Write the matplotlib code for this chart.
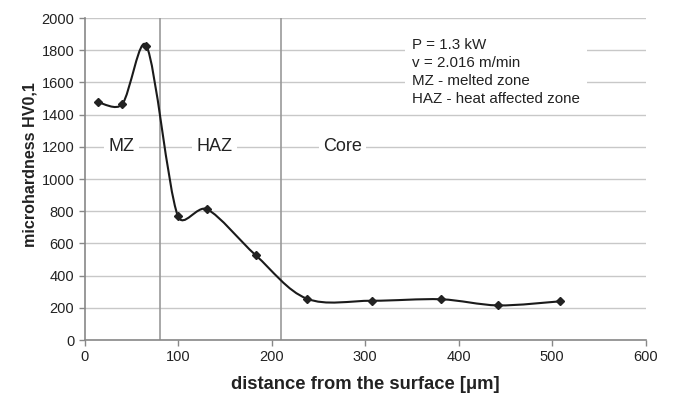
import numpy as np
import matplotlib
matplotlib.use("Agg")
import matplotlib.pyplot as plt
from matplotlib.path import Path
from matplotlib.patches import PathPatch

plt.rcParams['font.family'] = ['Liberation Sans', 'DejaVu Sans']

# measured hardness profile
distance = [14.5, 40, 66, 99.5, 131, 183, 237.5, 307.5, 381, 442, 508]
hardness = [1476, 1464, 1828, 772, 812, 526, 257, 244, 253, 215, 240]
zone_bounds = [80, 210]
zone_labels = ['MZ', 'HAZ', 'Core']
zone_label_x = [39.5, 139, 276]
notes = ['P = 1.3 kW', 'v = 2.016 m/min', 'MZ - melted zone', 'HAZ - heat affected zone']

fig = plt.figure(figsize=(6.74, 4.03), dpi=100)
ax = fig.add_axes([0.1257, 0.1563, 0.8323, 0.799])
ax.set_xlim(0, 600)
ax.set_ylim(0, 2000)

# smoothed line like a spreadsheet chart: cubic beziers, handles computed in
# screen space and shortened a bit next to short segments
pts = ax.transData.transform(np.column_stack([distance, hardness]))
n = len(pts)
verts = [pts[0]]
codes = [Path.MOVETO]
for i in range(n - 1):
    p0 = pts[i - 1] if i > 0 else pts[i]
    p1 = pts[i]
    p2 = pts[i + 1]
    p3 = pts[i + 2] if i + 2 < n else pts[i + 1]
    d01 = np.hypot(*(p1 - p0))
    d12 = np.hypot(*(p2 - p1))
    d23 = np.hypot(*(p3 - p2))
    f1 = min(1.0, np.sqrt(2 * d12 / (d01 + d12))) if d01 > 0 else 1.0
    f2 = min(1.0, np.sqrt(2 * d12 / (d12 + d23))) if d23 > 0 else 1.0
    c1 = p1 + (p2 - p0) / 6 * f1
    c2 = p2 - (p3 - p1) / 6 * f2
    verts += [c1, c2, p2]
    codes += [Path.CURVE4] * 3
curve = PathPatch(Path(np.array(verts), codes), facecolor='none', edgecolor='#1a1a1a',
                  lw=1.5, zorder=4, transform=None)
ax.add_artist(curve)
ax.plot(distance, hardness, ls='none', marker='D', ms=4, color='#222222', zorder=5)

for xb in zone_bounds:
    ax.axvline(xb, color='#999999', lw=1.2, zorder=2)

for lab, xl in zip(zone_labels, zone_label_x):
    ax.text(xl, 1200, lab, ha='center', va='center', fontsize=13, color='#222222',
            bbox=dict(facecolor='white', edgecolor='none', pad=3), zorder=3)

ax.text(350, 1665, '\n'.join(notes), ha='left', va='center', fontsize=10.9, color='#222222',
        linespacing=1.36, bbox=dict(facecolor='white', edgecolor='none', pad=5), zorder=3)

ax.set_xticks(range(0, 601, 100))
ax.set_yticks(range(0, 2001, 200))
ax.grid(axis='y', color='#c8c8c8', lw=1)
ax.set_axisbelow(True)
for s in ['top', 'right']:
    ax.spines[s].set_visible(False)
for s in ['left', 'bottom']:
    ax.spines[s].set_color('#888888')
    ax.spines[s].set_linewidth(1.2)
ax.tick_params(axis='both', labelsize=10.5, colors='#888888', labelcolor='#222222', length=4, width=1)

ax.set_xlabel('distance from the surface [μm]', fontsize=13.2, fontweight='bold', color='#222222', labelpad=8)
ax.set_ylabel('microhardness HV0,1', fontsize=11.6, fontweight='bold', color='#222222')
ax.yaxis.set_label_coords(-0.085, 0.544)

fig.savefig('out.png', dpi=100)
